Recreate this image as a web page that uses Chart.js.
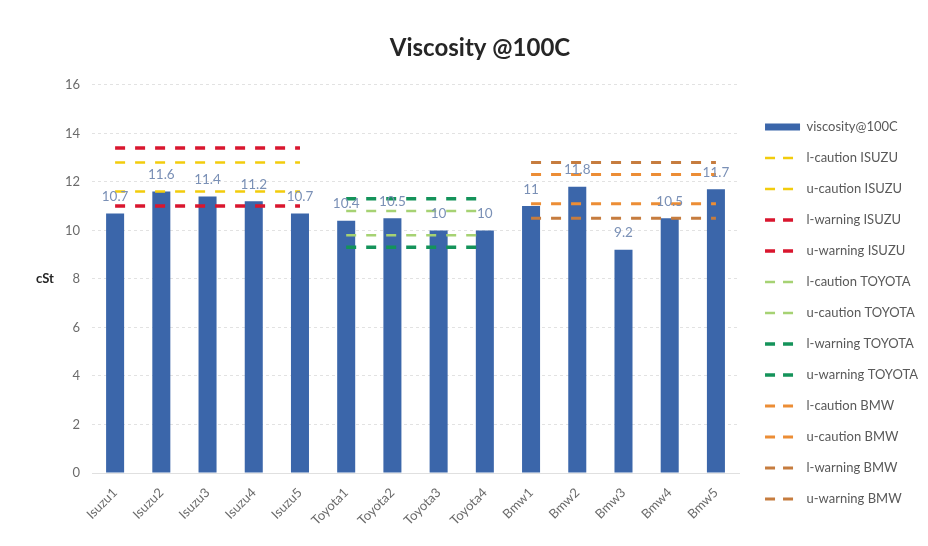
<!DOCTYPE html>
<html>
<head>
<meta charset="utf-8">
<script src="https://cdn.jsdelivr.net/npm/chart.js@4/dist/chart.umd.min.js"></script>
<style>
  html, body { margin: 0; padding: 0; background: #ffffff; }
  #wrap { width: 928px; height: 546px; }
</style>
</head>
<body>
<div id="wrap"><canvas id="c" width="928" height="546"></canvas></div>
<script>
const categories = ['Isuzu1','Isuzu2','Isuzu3','Isuzu4','Isuzu5','Toyota1','Toyota2','Toyota3','Toyota4','Bmw1','Bmw2','Bmw3','Bmw4','Bmw5'];
const viscosity = [10.7, 11.6, 11.4, 11.2, 10.7, 10.4, 10.5, 10, 10, 11, 11.8, 9.2, 10.5, 11.7];
const yTicks = [0, 2, 4, 6, 8, 10, 12, 14, 16];

const lCautionIsuzu   = [11.6, 11.6, 11.6, 11.6, 11.6, null, null, null, null, null, null, null, null, null];
const uCautionIsuzu   = [12.8, 12.8, 12.8, 12.8, 12.8, null, null, null, null, null, null, null, null, null];
const lWarningIsuzu   = [11.0, 11.0, 11.0, 11.0, 11.0, null, null, null, null, null, null, null, null, null];
const uWarningIsuzu   = [13.4, 13.4, 13.4, 13.4, 13.4, null, null, null, null, null, null, null, null, null];
const lCautionToyota  = [null, null, null, null, null, 9.8, 9.8, 9.8, 9.8, null, null, null, null, null];
const uCautionToyota  = [null, null, null, null, null, 10.8, 10.8, 10.8, 10.8, null, null, null, null, null];
const lWarningToyota  = [null, null, null, null, null, 9.3, 9.3, 9.3, 9.3, null, null, null, null, null];
const uWarningToyota  = [null, null, null, null, null, 11.3, 11.3, 11.3, 11.3, null, null, null, null, null];
const lCautionBmw     = [null, null, null, null, null, null, null, null, null, 11.1, 11.1, 11.1, 11.1, 11.1];
const uCautionBmw     = [null, null, null, null, null, null, null, null, null, 12.3, 12.3, 12.3, 12.3, 12.3];
const lWarningBmw     = [null, null, null, null, null, null, null, null, null, 10.5, 10.5, 10.5, 10.5, 10.5];
const uWarningBmw     = [null, null, null, null, null, null, null, null, null, 12.8, 12.8, 12.8, 12.8, 12.8];

const FONT = "Lato, 'Open Sans', sans-serif";
const LEGEND_GAP = 8;

function limitLine(label, data, color, width) {
  return {
    type: 'line', label: label, data: data,
    borderColor: color, backgroundColor: color,
    borderWidth: width, borderDash: [10, 10],
    pointRadius: 0, pointHoverRadius: 0, pointStyle: 'line',
    fill: false, spanGaps: false, order: 0
  };
}

const valueLabels = {
  id: 'valueLabels',
  afterDatasetsDraw(chart) {
    const ctx = chart.ctx;
    const meta = chart.getDatasetMeta(0);
    ctx.save();
    ctx.font = "13.5px " + FONT;
    ctx.fillStyle = '#7a90b6';
    ctx.textAlign = 'center';
    ctx.textBaseline = 'bottom';
    meta.data.forEach((el, i) => {
      ctx.fillText(String(viscosity[i]), el.x, el.y - 10);
    });
    ctx.restore();
  }
};

const yTitle = {
  id: 'yTitle',
  afterDraw(chart) {
    const ctx = chart.ctx;
    const area = chart.chartArea;
    ctx.save();
    ctx.font = "bold 13px " + FONT;
    ctx.fillStyle = '#262626';
    ctx.textAlign = 'center';
    ctx.textBaseline = 'middle';
    ctx.fillText('cSt', 45, (area.top + area.bottom) / 2);
    ctx.restore();
  }
};

// adds a small gap between the plot area and the legend entries
const legendGap = {
  id: 'legendGap',
  beforeLayout(chart) {
    const lg = chart.legend;
    if (!lg || lg._gapWrapped) return;
    lg._gapWrapped = true;
    const origFit = lg.fit;
    lg.fit = function() { origFit.apply(this, arguments); this.width += LEGEND_GAP; };
    const origDraw = lg.draw;
    lg.draw = function() {
      const c = this.ctx; c.save(); c.translate(LEGEND_GAP, 0);
      origDraw.apply(this, arguments); c.restore();
    };
  }
};

new Chart(document.getElementById('c'), {
  data: {
    labels: categories,
    datasets: [
      { type: 'bar', label: 'viscosity@100C', data: viscosity, backgroundColor: '#3b66aa', borderWidth: 0,
        barPercentage: 0.39, categoryPercentage: 1.0, order: 1 },
      limitLine('l-caution ISUZU', lCautionIsuzu, '#f2cc0c', 2.5),
      limitLine('u-caution ISUZU', uCautionIsuzu, '#f2cc0c', 2.5),
      limitLine('l-warning ISUZU', lWarningIsuzu, '#d9162e', 3.5),
      limitLine('u-warning ISUZU', uWarningIsuzu, '#d9162e', 3.5),
      limitLine('l-caution TOYOTA', lCautionToyota, '#a6d273', 2.5),
      limitLine('u-caution TOYOTA', uCautionToyota, '#a6d273', 2.5),
      limitLine('l-warning TOYOTA', lWarningToyota, '#14935a', 3.5),
      limitLine('u-warning TOYOTA', uWarningToyota, '#14935a', 3.5),
      limitLine('l-caution BMW', lCautionBmw, '#ec8d35', 3),
      limitLine('u-caution BMW', uCautionBmw, '#ec8d35', 3),
      limitLine('l-warning BMW', lWarningBmw, '#c67c3e', 3),
      limitLine('u-warning BMW', uWarningBmw, '#c67c3e', 3)
    ]
  },
  options: {
    responsive: false,
    animation: false,
    devicePixelRatio: 1,
    layout: { padding: { left: 32, right: 0, top: 0, bottom: 0 } },
    plugins: {
      tooltip: { enabled: false },
      title: {
        display: true, text: 'Viscosity @100C', color: '#262626',
        font: { family: FONT, size: 24, weight: 'bold' },
        padding: { top: 34, bottom: 22 }
      },
      legend: {
        position: 'right',
        title: { display: true, text: ' ', font: { family: FONT, size: 10 }, padding: 34 },
        labels: {
          font: { family: FONT, size: 13 },
          color: '#595959',
          usePointStyle: true,
          pointStyleWidth: 35,
          boxHeight: 7,
          padding: 18,
          sort: (a, b) => a.datasetIndex - b.datasetIndex,
          generateLabels(chart) {
            const items = Chart.defaults.plugins.legend.labels.generateLabels(chart);
            items.forEach(it => {
              const ds = chart.data.datasets[it.datasetIndex];
              if (ds.type === 'bar') {
                it.pointStyle = 'rect';
                it.fillStyle = ds.backgroundColor;
                it.lineWidth = 0;
              } else {
                it.pointStyle = 'line';
                it.strokeStyle = ds.borderColor;
                it.lineWidth = ds.borderWidth;
                it.lineDash = [10, 8];
              }
              it.fontColor = '#595959';
            });
            return items;
          }
        }
      }
    },
    scales: {
      x: {
        grid: { display: false },
        border: { color: '#e0e0e0' },
        ticks: {
          color: '#6b6b6b', font: { family: FONT, size: 13 },
          maxRotation: 45, minRotation: 45, autoSkip: false, padding: 4
        },
        afterFit(s) { s.height = 73; }
      },
      y: {
        min: 0, max: 16,
        afterBuildTicks(s) { s.ticks = yTicks.map(v => ({ value: v })); },
        grid: { color: '#e2e2e2', lineWidth: 1, drawTicks: false },
        border: { display: false, dash: [3, 3] },
        ticks: { color: '#6b6b6b', font: { family: FONT, size: 13 }, padding: 12 },
        afterFit(s) { s.width = 60; }
      }
    }
  },
  plugins: [valueLabels, yTitle, legendGap]
});
</script>
</body>
</html>
